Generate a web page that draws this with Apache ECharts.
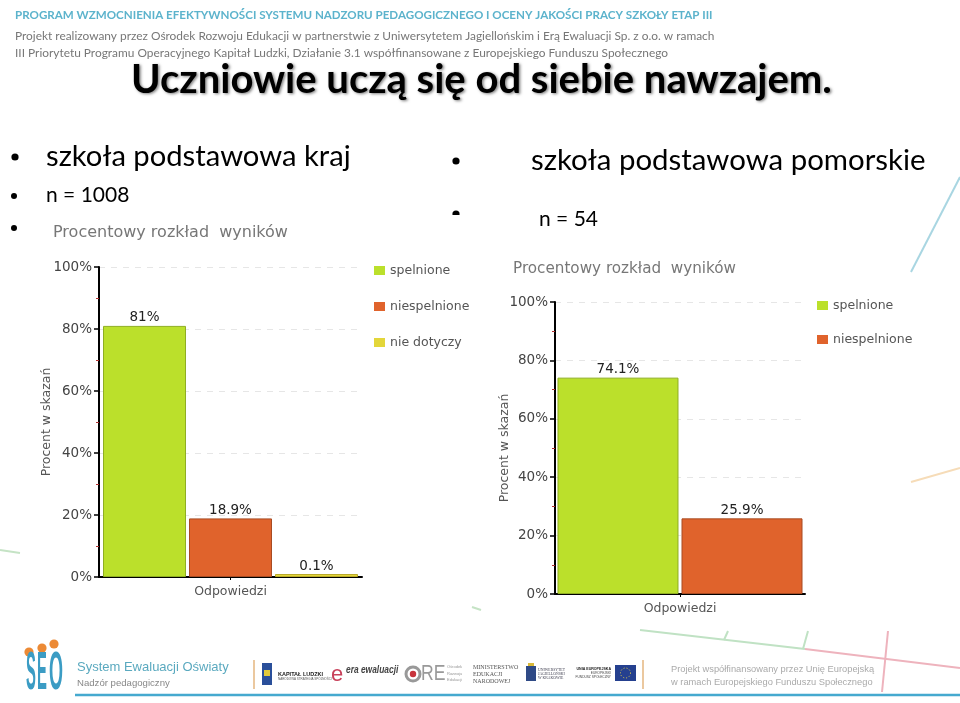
<!DOCTYPE html>
<html><head><meta charset="utf-8">
<style>html,body{margin:0;padding:0;background:#fff}#c{width:960px;height:703px}</style>
<script src="https://cdn.jsdelivr.net/npm/echarts@6/dist/echarts.min.js"></script>
</head><body><div id="c"></div>
<script>
const categories = ['Odpowiedzi'];
const seriesNames = ['spelnione', 'niespelnione', 'nie dotyczy'];
const krajValues = [81, 18.9, 0.1];
const pomorskieValues = [74.1, 25.9];
const fills = ['#bbe02b', '#e0632c', '#e3d63a'];
const borders = ['#8fae22', '#a84b22', '#b9a92a'];
const chartFont = '"DejaVu Sans", sans-serif';
const slideFont = 'Lato, sans-serif';

const chart = echarts.init(document.getElementById('c'), null, {renderer: 'canvas'});

function txt(x, y, text, o) {
  o = o || {};
  const el = {type: 'text', x: x, y: y, z: o.z || 5, silent: true,
    scaleX: o.sx || 1, scaleY: o.sy || 1, rotation: o.rot || 0,
    style: {text: text, fill: o.c || '#000', font: (o.w || 'normal') + ' ' + (o.s || 12) + 'px ' + (o.f || slideFont),
      align: o.a || 'left', verticalAlign: 'middle',
      textShadowColor: o.sc, textShadowBlur: o.sb || 0, textShadowOffsetX: o.so || 0, textShadowOffsetY: o.so || 0}};
  return el;
}
function ln(x1, y1, x2, y2, c, w) {
  return {type: 'line', z: 1, silent: true, shape: {x1, y1, x2, y2}, style: {stroke: c, lineWidth: w || 2}};
}
function dot(x, y, r, c) { return {type: 'circle', z: 5, silent: true, shape: {cx: x, cy: y, r: r}, style: {fill: c || '#000'}}; }
function box(x, y, w, h, c, z) { return {type: 'rect', z: z || 3, silent: true, shape: {x, y, width: w, height: h}, style: {fill: c}}; }

const graphics = [
  // decorative strokes
  ln(960, 177, 911, 272, '#a9d6e2'), ln(960, 468, 911, 482, '#f6dcb8'),
  ln(0, 550, 20, 553, '#c5e3c5'), ln(472, 607, 481, 610, '#c5e3c5'),
  ln(640, 630, 805, 649, '#c0e2c4'), ln(805, 649, 960, 668, '#eeb3bd'),
  ln(728, 631, 724, 640, '#c0e2c4'), ln(808, 631, 803, 649, '#c0e2c4'),
  ln(888, 631, 882, 692, '#eeb3bd'),
  ln(75, 695, 960, 695, '#45a9cf', 2.5),
  ln(254, 660, 254, 689, '#e5b67f', 1.5), ln(643, 660, 643, 689, '#e5b67f', 1.5),
  // header
  txt(15, 15, 'PROGRAM WZMOCNIENIA EFEKTYWNOŚCI SYSTEMU NADZORU PEDAGOGICZNEGO I OCENY JAKOŚCI PRACY SZKOŁY ETAP III', {s: 11.6, c: '#5cb3cc', w: 'bold'}),
  txt(15, 36, 'Projekt realizowany przez Ośrodek Rozwoju Edukacji w partnerstwie z Uniwersytetem Jagiellońskim i Erą Ewaluacji Sp. z o.o. w ramach', {s: 11.9, c: '#777'}),
  txt(15, 53, 'III Priorytetu Programu Operacyjnego Kapitał Ludzki, Działanie 3.1 współfinansowane z Europejskiego Funduszu Społecznego', {s: 11.9, c: '#777'}),
  txt(131, 80, 'Uczniowie uczą się od siebie nawzajem.', {s: 40, w: 'bold', sc: 'rgba(0,0,0,0.5)', sb: 3, so: 1.5}),
  // bullets
  dot(15, 157, 3.6), txt(46, 157, 'szkoła podstawowa kraj', {s: 29.2}),
  dot(14, 196, 3), txt(46, 195, 'n = 1008', {s: 21}),
  dot(14, 228, 3),
  dot(456, 161, 3.6), txt(531, 161, 'szkoła podstawowa pomorskie', {s: 29.4}),
  txt(539, 219, 'n = 54', {s: 21}),
  dot(456, 214, 3.6), box(450, 215, 14, 6, '#fff', 6),
  // footer: SEO logo
  dot(29, 652, 4.6, '#ec8a35'), dot(42, 648, 4.6, '#ec8a35'), dot(54, 644, 4.6, '#ec8a35'),
  txt(26, 674, 'S', {s: 40, sx: .37, sy: 1.35, c: '#3b9cc4', w: 'bold', f: 'Liberation Sans'}),
  txt(37, 674, 'E', {s: 40, sx: .37, sy: 1.35, c: '#3b9cc4', w: 'bold', f: 'Liberation Sans'}),
  txt(49, 674, 'O', {s: 40, sx: .45, sy: 1.35, c: '#3b9cc4', w: 'bold', f: 'Liberation Sans'}),
  txt(77, 667, 'System Ewaluacji Oświaty', {s: 13, c: '#5aa9bf', f: 'Liberation Sans'}),
  txt(77, 683, 'Nadzór pedagogiczny', {s: 9.6, c: '#888', f: 'Liberation Sans'}),
  // footer: partner marks
  box(262, 663, 10, 22, '#2a4f9a'), box(264, 670, 6, 6, '#e2c93a', 4),
  txt(278, 674, 'KAPITAŁ LUDZKI', {s: 5.5, w: 'bold', c: '#222', f: 'Liberation Sans'}),
  txt(278, 679, 'NARODOWA STRATEGIA SPÓJNOŚCI', {s: 3, c: '#555', f: 'Liberation Sans'}),
  txt(331, 675, 'e', {s: 22, c: '#c8415a', f: 'Liberation Sans'}),
  txt(346, 670, 'era ewaluacji', {s: 10.5, sx: .8, c: '#444', w: 'italic bold', f: 'Liberation Sans'}),
  {type: 'circle', z: 5, silent: true, shape: {cx: 413, cy: 674, r: 7}, style: {fill: 'none', stroke: '#999', lineWidth: 3}},
  dot(413, 674, 3.2, '#c8343c'),
  txt(421, 674, 'RE', {s: 22, sx: .8, c: '#999', f: 'Liberation Sans'}),
  txt(447, 667, 'Ośrodek', {s: 4, c: '#999', f: 'Liberation Sans'}),
  txt(447, 674, 'Rozwoju', {s: 4, c: '#999', f: 'Liberation Sans'}),
  txt(447, 680, 'Edukacji', {s: 4, c: '#999', f: 'Liberation Sans'}),
  txt(473, 667, 'MINISTERSTWO', {s: 6, c: '#555', f: 'Liberation Serif'}),
  txt(473, 674, 'EDUKACJI', {s: 6, c: '#555', f: 'Liberation Serif'}),
  txt(473, 681, 'NARODOWEJ', {s: 6, c: '#555', f: 'Liberation Serif'}),
  box(526, 666, 10, 15, '#2f4a86'), box(528, 663, 6, 3, '#d9b93a'),
  txt(538, 670, 'UNIWERSYTET', {s: 3.8, c: '#445', f: 'Liberation Serif'}),
  txt(538, 674, 'JAGIELLOŃSKI', {s: 3.8, c: '#445', f: 'Liberation Serif'}),
  txt(538, 678, 'W KRAKOWIE', {s: 3.8, c: '#445', f: 'Liberation Serif'}),
  txt(611, 669, 'UNIA EUROPEJSKA', {s: 3.6, a: 'right', w: 'bold', c: '#222', f: 'Liberation Sans'}),
  txt(611, 673, 'EUROPEJSKI', {s: 3.2, a: 'right', c: '#444', f: 'Liberation Sans'}),
  txt(611, 677, 'FUNDUSZ SPOŁECZNY', {s: 3.2, a: 'right', c: '#444', f: 'Liberation Sans'}),
  box(615, 665, 21, 16, '#25408f'),
  {type: 'circle', z: 5, silent: true, shape: {cx: 625.5, cy: 673, r: 5}, style: {fill: 'none', stroke: '#e8d44a', lineWidth: 1, lineDash: [1, 2]}},
  txt(671, 669, 'Projekt współfinansowany przez Unię Europejską', {s: 9.3, c: '#aaa', f: 'Liberation Sans'}),
  txt(671, 682, 'w ramach Europejskiego Funduszu Społecznego', {s: 9.3, c: '#aaa', f: 'Liberation Sans'})
];

function axes(idx, nameGap) {
  return {
    x: {type: 'category', gridIndex: idx, data: categories,
      axisLine: {lineStyle: {color: '#000', width: 2}},
      axisTick: {show: true, alignWithLabel: true, length: 3, lineStyle: {color: '#000'}},
      axisLabel: {color: '#555', fontFamily: chartFont, fontSize: 12.5, margin: 8}},
    y: {type: 'value', gridIndex: idx, min: 0, max: 100, interval: 20,
      name: 'Procent w skazań', nameLocation: 'middle', nameGap: nameGap, nameRotate: 90, nameMoveOverlap: false,
      nameTextStyle: {color: '#555', fontFamily: chartFont, fontSize: 12.5},
      axisLine: {show: true, lineStyle: {color: '#000', width: 2}},
      axisTick: {show: true, length: 5, lineStyle: {color: '#000', width: 1.5}},
      minorTick: {show: true, splitNumber: 2, length: 3, lineStyle: {color: '#b03030'}},
      axisLabel: {formatter: '{value}%', color: '#444', fontFamily: chartFont, fontSize: 13.5, margin: 7},
      splitLine: {show: true, lineStyle: {color: '#e6e6e6', type: [6, 6], width: 1}}}
  };
}
function bars(values, idx, width, gap) {
  return values.map((v, i) => ({
    type: 'bar', name: seriesNames[i], xAxisIndex: idx, yAxisIndex: idx,
    data: [v], barWidth: width, barGap: gap, barMinHeight: 3,
    itemStyle: {color: fills[i], borderColor: borders[i], borderWidth: 1},
    label: {show: true, position: 'top', distance: 1, formatter: '{c}%', color: '#222', fontFamily: chartFont, fontSize: 13.5}
  }));
}
const a0 = axes(0, 46), a1 = axes(1, 44);
const legendBase = {orient: 'vertical', icon: 'rect', itemWidth: 11, itemHeight: 9, padding: 0,
  selectedMode: false, itemStyle: {borderWidth: 0}, textStyle: {color: '#555', fontFamily: chartFont, fontSize: 12.5}};

chart.setOption({
  animation: false,
  backgroundColor: '#fff',
  title: [
    {text: 'Procentowy rozkład  wyników', left: 53, top: 225, padding: 0, textStyle: {color: '#777', fontFamily: chartFont, fontSize: 16, fontWeight: 'normal'}},
    {text: 'Procentowy rozkład  wyników', left: 513, top: 262, padding: 0, textStyle: {color: '#777', fontFamily: chartFont, fontSize: 15.2, fontWeight: 'normal'}}
  ],
  grid: [
    {left: 99, top: 267, width: 263, height: 310},
    {left: 555, top: 302, width: 250, height: 292}
  ],
  xAxis: [a0.x, a1.x],
  yAxis: [a0.y, a1.y],
  legend: [
    Object.assign({}, legendBase, {left: 374, top: 264, itemGap: 23, data: seriesNames}),
    Object.assign({}, legendBase, {left: 817, top: 299, itemGap: 21, data: seriesNames.slice(0, 2)})
  ],
  series: bars(krajValues, 0, 83, '3.6%').concat(bars(pomorskieValues, 1, 121, '2.5%')),
  graphic: graphics
});
</script></body></html>
